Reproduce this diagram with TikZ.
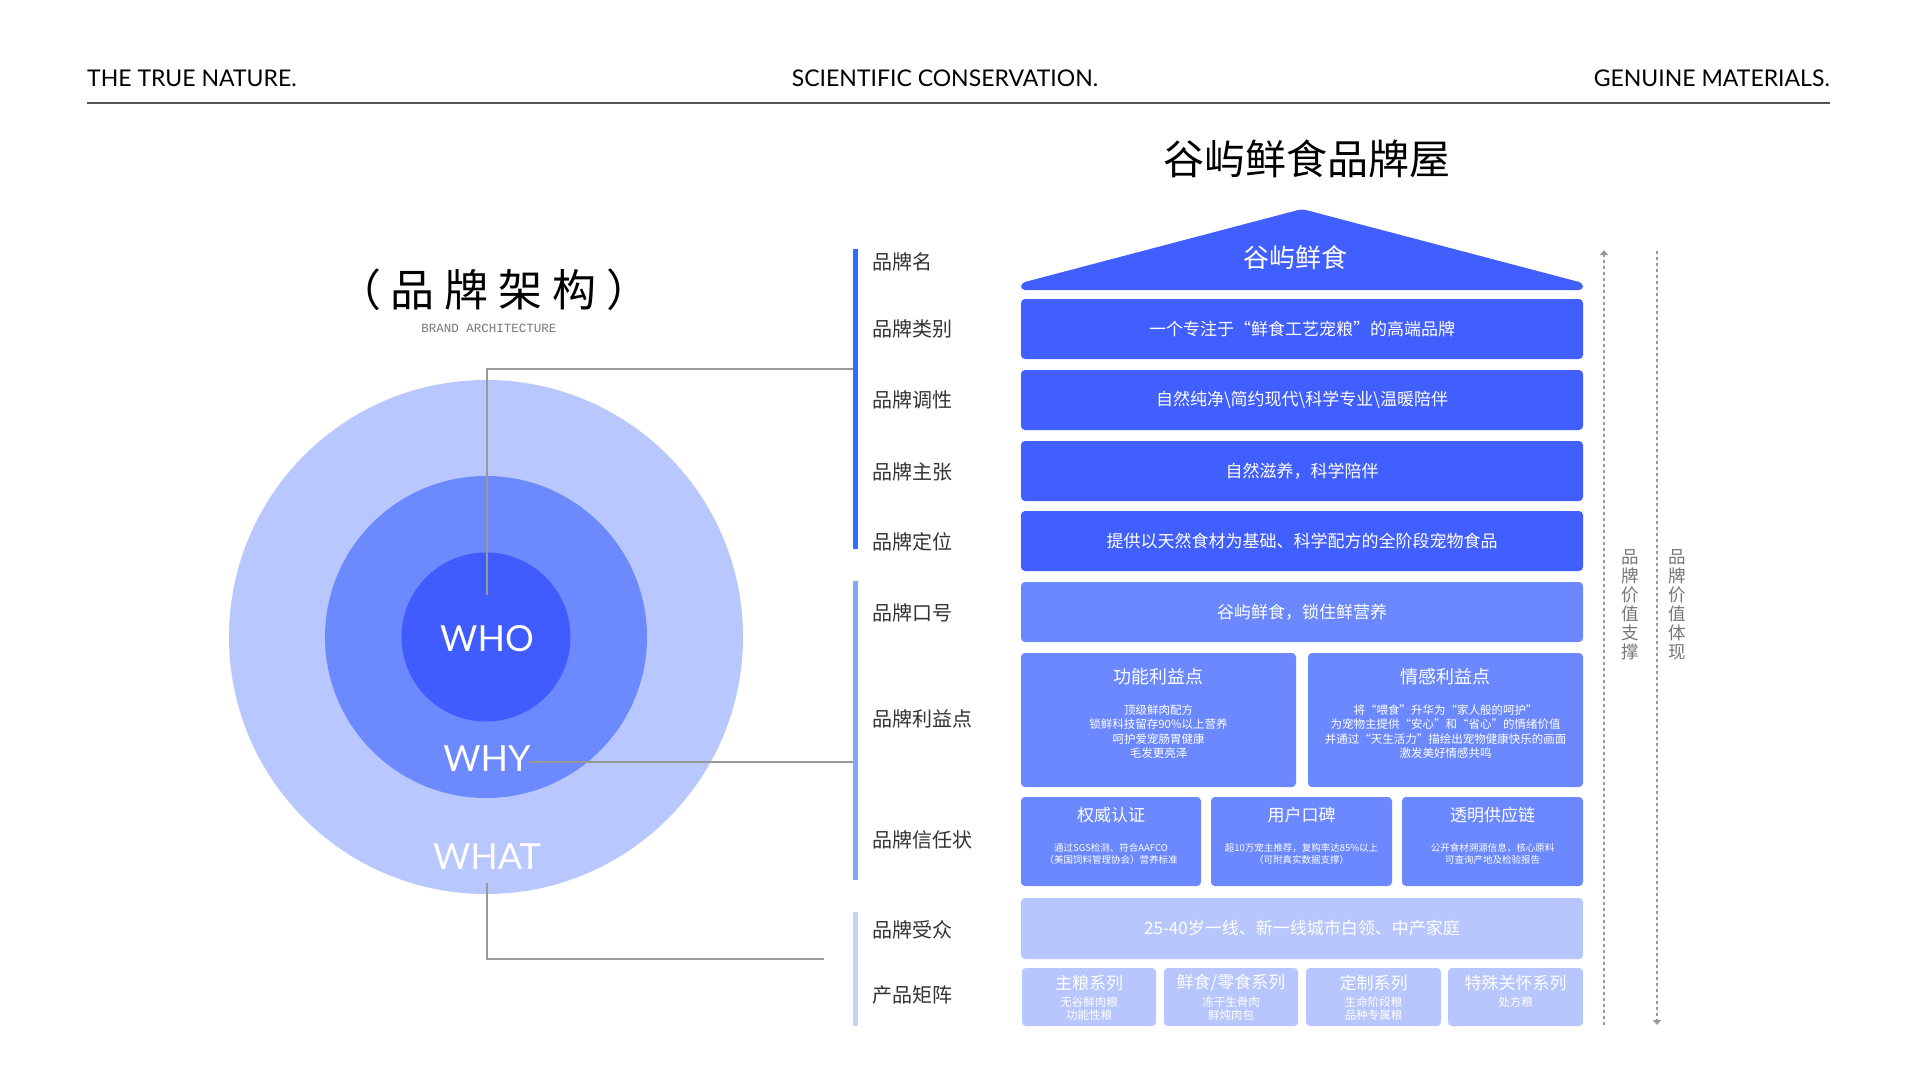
\documentclass[tikz,border=0pt]{standalone}
\usepackage{fontspec}
\setmainfont{Lato}
\newfontfamily\cjk{Noto Sans CJK SC}
\newfontfamily\latof{Lato}
\newfontfamily\monof{Liberation Mono}
\usetikzlibrary{arrows.meta}
\definecolor{cDark}{HTML}{415EFF}
\definecolor{cMed}{HTML}{6B88FF}
\definecolor{cLight}{HTML}{B7C6FC}
\definecolor{cOuter}{HTML}{B8C7FD}
\definecolor{cMid}{HTML}{6C89FE}
\definecolor{cInner}{HTML}{405CFF}
\definecolor{barA}{HTML}{2E6DFF}
\definecolor{barB}{HTML}{80A8F8}
\definecolor{barC}{HTML}{C5D5EF}
\definecolor{connc}{HTML}{999999}
\definecolor{lblc}{HTML}{333333}
\definecolor{vtc}{HTML}{777777}
\definecolor{rulec}{HTML}{555555}
\begin{document}
\begin{tikzpicture}[x=1pt,y=-1pt,
  hdr/.style={font=\latof\fontsize{23}{26}\selectfont, text=black, inner sep=0},
  lbl/.style={font=\cjk\fontsize{20}{24}\selectfont, text=lblc, anchor=west, inner sep=0},
  bx/.style={rectangle, rounded corners=4pt, inner sep=0, text=white, font=\cjk\fontsize{17}{20}\selectfont},
  ttl/.style={inner sep=0, text=white, font=\cjk\fontsize{18}{21}\selectfont},
  ttlsm/.style={inner sep=0, text=white, font=\cjk\fontsize{17}{20}\selectfont},
  bodyA/.style={inner sep=0, text=white, align=center, font=\cjk\fontsize{11.5}{14.3}\selectfont},
  bodyB/.style={inner sep=0, text=white, align=center, font=\cjk\fontsize{9.5}{12.5}\selectfont},
  bodyC/.style={inner sep=0, text=white, align=center, font=\cjk\fontsize{11.5}{13}\selectfont},
  conn/.style={draw=connc, line width=1.3pt},
  dashline/.style={draw=connc, line width=1.3pt, dash pattern=on 3pt off 3pt},
  vtxt/.style={inner sep=0, text=vtc, align=center, font=\cjk\fontsize{17.5}{19}\selectfont},
  wtxt/.style={inner sep=0, text=white, font=\latof\fontsize{36}{40}\selectfont},
  circ/.style={circle, inner sep=0, draw=none}
]
\useasboundingbox (0,0) rectangle (1920,1080);
\fill[white] (0,0) rectangle (1920,1080);

% header
\node[hdr, anchor=base west] (h1) at (87,86) {THE TRUE NATURE.};
\node[hdr, anchor=base] (h2) at (945,86) {SCIENTIFIC CONSERVATION.};
\node[hdr, anchor=base east] (h3) at (1830,86) {GENUINE MATERIALS.};
\draw[draw=rulec, line width=1.5pt] (87,103) -- (1830,103);

% title
\node[inner sep=0, font=\cjk\fontsize{41}{45}\selectfont, text=black] (title) at (1307,159) {谷屿鲜食品牌屋};

% left title
\node[inner sep=0, font=\cjk\fontsize{44}{48}\selectfont, text=black] (arch) at (494,290) {（\hspace{10pt}品\hspace{10pt}牌\hspace{10pt}架\hspace{10pt}构\hspace{10pt}）};
\node[inner sep=0, font=\monof\fontsize{12.5}{14}\selectfont, text=vtc] (archsub) at (489,328) {BRAND ARCHITECTURE};

% circles
\node[circ, fill=cOuter, minimum size=514pt] (outer) at (486,637) {};
\node[circ, fill=cMid, minimum size=322pt] (mid) at (486,637) {};
\node[circ, fill=cInner, minimum size=169pt] (inner) at (486,637) {};
\node[wtxt] (who) at (487,639) {WHO};
\node[wtxt] (why) at (487,759) {WHY};
\node[wtxt] (what) at (487,857) {WHAT};

% bars
\fill[barA] (853,249) rectangle (857.5,549);
\fill[barB] (853,581) rectangle (857.5,880);
\fill[barC] (853,912) rectangle (857.5,1026);

% connectors
\coordinate (c1a) at (487,595);
\coordinate (c1b) at (853,369);
\draw[conn] (c1a) |- (c1b);
\coordinate (c2a) at (529,762);
\coordinate (c2b) at (853,762);
\draw[conn] (c2a) -- (c2b);
\coordinate (c3a) at (487,883);
\coordinate (c3b) at (824,959);
\draw[conn] (c3a) |- (c3b);

% labels
\node[lbl] (l1) at (872,262) {品牌名};
\node[lbl] (l2) at (872,329) {品牌类别};
\node[lbl] (l3) at (872,400) {品牌调性};
\node[lbl] (l4) at (872,472) {品牌主张};
\node[lbl] (l5) at (872,542) {品牌定位};
\node[lbl] (l6) at (872,613) {品牌口号};
\node[lbl] (l7) at (872,719) {品牌利益点};
\node[lbl] (l8) at (872,840) {品牌信任状};
\node[lbl] (l9) at (872,930) {品牌受众};
\node[lbl] (l10) at (872,995) {产品矩阵};

% roof
\fill[cDark, rounded corners=4pt] (1021,290) -- (1021,283) -- (1302,209) -- (1583,283) -- (1583,290) -- cycle;
\node[inner sep=0, font=\cjk\fontsize{26}{30}\selectfont, text=white] (roofname) at (1295,258) {谷屿鲜食};

% main boxes
\node[bx, fill=cDark, minimum width=562pt, minimum height=60pt] (b2) at (1302,329) {一个专注于“鲜食工艺宠粮”的高端品牌};
\node[bx, fill=cDark, minimum width=562pt, minimum height=60pt] (b3) at (1302,400) {自然纯净\textbackslash 简约现代\textbackslash 科学专业\textbackslash 温暖陪伴};
\node[bx, fill=cDark, minimum width=562pt, minimum height=60pt] (b4) at (1302,471) {自然滋养，科学陪伴};
\node[bx, fill=cDark, minimum width=562pt, minimum height=60pt] (b5) at (1302,541) {提供以天然食材为基础、科学配方的全阶段宠物食品};
\node[bx, fill=cMed, minimum width=562pt, minimum height=60pt] (b6) at (1302,612) {谷屿鲜食，锁住鲜营养};

% benefits
\node[bx, fill=cMed, minimum width=275pt, minimum height=134pt] (fb) at (1158.5,720) {};
\node[ttl] (fbt) at (1158.5,677) {功能利益点};
\node[bodyA] (fbb) at (1158.5,731.5) {顶级鲜肉配方\\锁鲜科技留存90\%以上营养\\呵护爱宠肠胃健康\\毛发更亮泽};
\node[bx, fill=cMed, minimum width=275pt, minimum height=134pt] (eb) at (1445.5,720) {};
\node[ttl] (ebt) at (1445.5,677) {情感利益点};
\node[bodyA] (ebb) at (1445.5,731.5) {将“喂食”升华为“家人般的呵护”\\为宠物主提供“安心”和“省心”的情绪价值\\并通过“天生活力”描绘出宠物健康快乐的画面\\激发美好情感共鸣};

% trust
\node[bx, fill=cMed, minimum width=180pt, minimum height=89pt] (t1) at (1111,841.5) {};
\node[ttlsm] (t1t) at (1111,815) {权威认证};
\node[bodyB] (t1b) at (1111,854) {通过SGS检测、符合AAFCO\\（美国饲料管理协会）营养标准};
\node[bx, fill=cMed, minimum width=181pt, minimum height=89pt] (t2) at (1301.5,841.5) {};
\node[ttlsm] (t2t) at (1301.5,815) {用户口碑};
\node[bodyB] (t2b) at (1301.5,854) {超10万宠主推荐，复购率达85\%以上\\（可附真实数据支撑）};
\node[bx, fill=cMed, minimum width=181pt, minimum height=89pt] (t3) at (1492.5,841.5) {};
\node[ttlsm] (t3t) at (1492.5,815) {透明供应链};
\node[bodyB] (t3b) at (1492.5,854) {公开食材溯源信息，核心原料\\可查询产地及检验报告};

% audience
\node[bx, fill=cLight, minimum width=562pt, minimum height=61pt] (b9) at (1302,928.5) {25-40岁一线、新一线城市白领、中产家庭};

% product matrix
\node[bx, fill=cLight, minimum width=134pt, minimum height=58pt] (p1) at (1089,997) {};
\node[ttlsm] (p1t) at (1089,983) {主粮系列};
\node[bodyC] (p1b) at (1089,1008.5) {无谷鲜肉粮\\功能性粮};
\node[bx, fill=cLight, minimum width=134pt, minimum height=58pt] (p2) at (1231,997) {};
\node[ttlsm] (p2t) at (1231,983) {鲜食/零食系列};
\node[bodyC] (p2b) at (1231,1008.5) {冻干生骨肉\\鲜炖肉包};
\node[bx, fill=cLight, minimum width=135pt, minimum height=58pt] (p3) at (1373.5,997) {};
\node[ttlsm] (p3t) at (1373.5,983) {定制系列};
\node[bodyC] (p3b) at (1373.5,1008.5) {生命阶段粮\\品种专属粮};
\node[bx, fill=cLight, minimum width=135pt, minimum height=58pt] (p4) at (1515.5,997) {};
\node[ttlsm] (p4t) at (1515.5,983) {特殊关怀系列};
\node[bodyC] (p4b) at (1515.5,1002) {处方粮};

% dashed arrows
\coordinate (d1b) at (1604,1025);
\coordinate (d1t) at (1604,250);
\draw[dashline, -{Triangle[width=8pt,length=5pt]}, fill=connc] (d1b) -- (d1t);
\coordinate (d2t) at (1657,251);
\coordinate (d2b) at (1657,1025);
\draw[dashline, -{Triangle[width=8pt,length=5pt]}, fill=connc] (d2t) -- (d2b);
\node[vtxt] (v1) at (1630,605) {品\\牌\\价\\值\\支\\撑};
\node[vtxt] (v2) at (1677,605) {品\\牌\\价\\值\\体\\现};
\end{tikzpicture}
\end{document}
